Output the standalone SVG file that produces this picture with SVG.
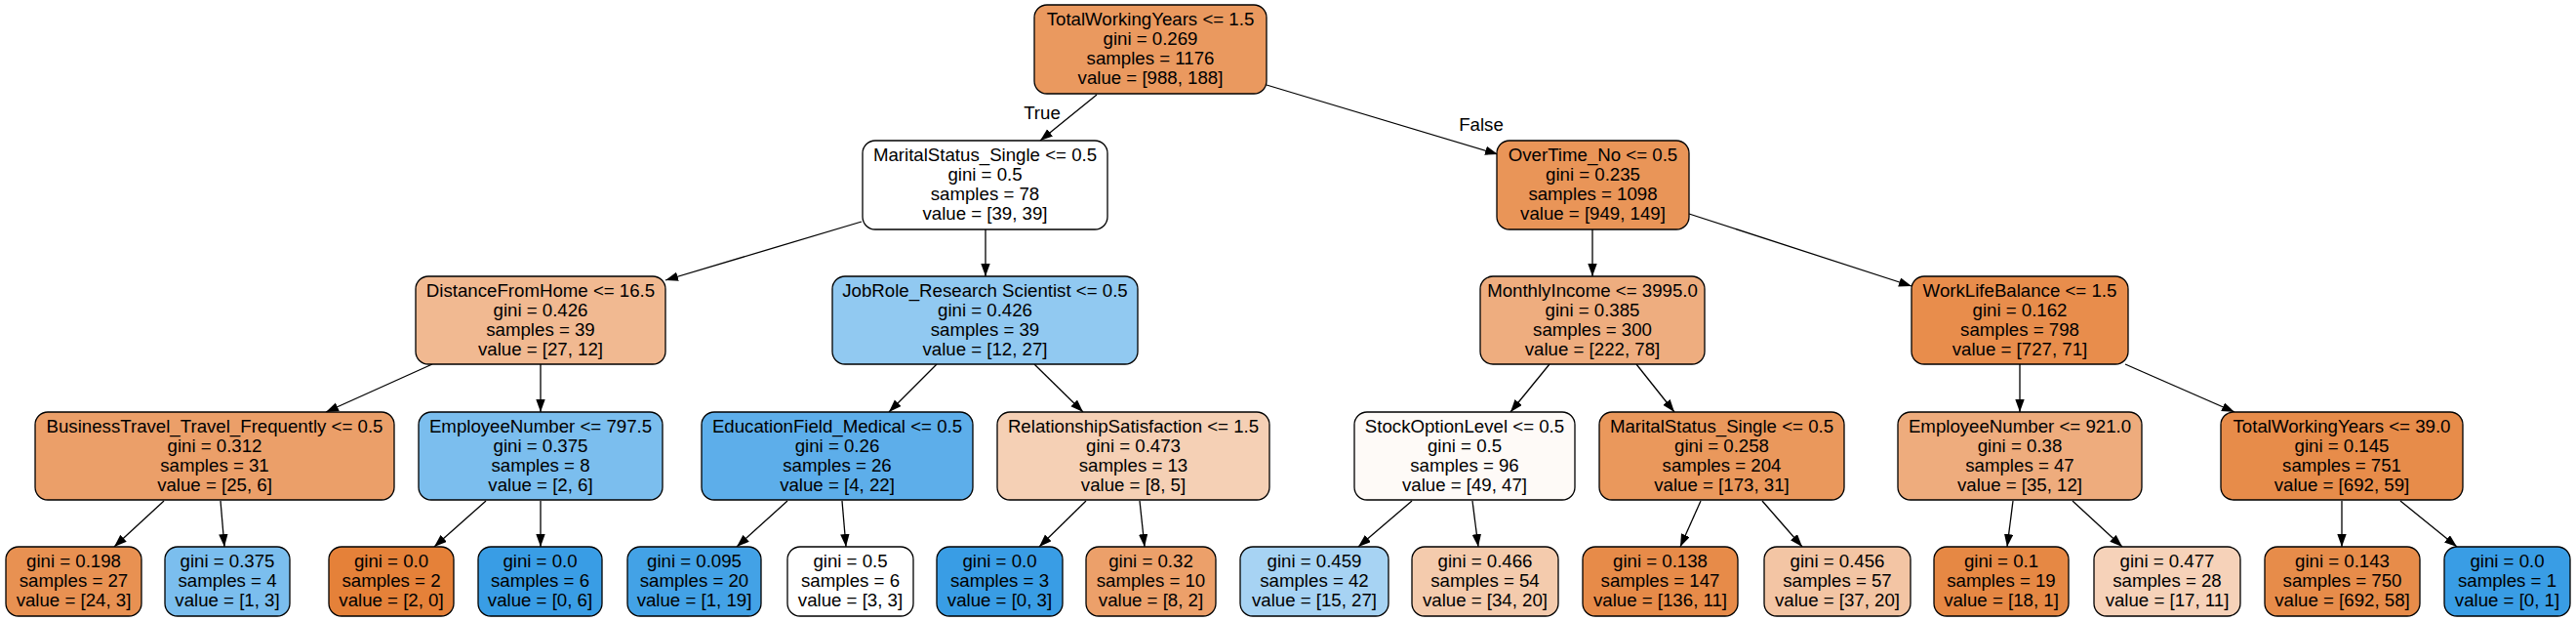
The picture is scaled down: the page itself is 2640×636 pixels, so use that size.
<svg xmlns="http://www.w3.org/2000/svg" width="2640" height="636" viewBox="0 0 2640 636">
<style>
.n rect{stroke:#000;stroke-width:1.3}
text{font-family:"Liberation Sans",Arial,Helvetica,sans-serif;font-size:18.67px;fill:#000;text-anchor:middle}
#edges line{stroke:#000;stroke-width:1.3;marker-end:url(#ah)}
</style>
<defs>
<marker id="ah" markerUnits="userSpaceOnUse" markerWidth="14" markerHeight="10" refX="13" refY="4.7" orient="auto">
<path d="M0,0 L13,4.7 L0,9.4 z" fill="#000"/>
</marker>
</defs>
<rect width="2640" height="636" fill="#fff"/>
<g id="edges">
<line x1="1124" y1="97" x2="1066" y2="144"/>
<line x1="1298" y1="87" x2="1535" y2="158"/>
<line x1="883" y1="227" x2="682" y2="287"/>
<line x1="1010" y1="235" x2="1010" y2="283"/>
<line x1="1632" y1="235" x2="1632" y2="283"/>
<line x1="1731" y1="219" x2="1959" y2="293"/>
<line x1="443" y1="373" x2="334" y2="422"/>
<line x1="554" y1="373" x2="554" y2="422"/>
<line x1="960" y1="373" x2="911" y2="422"/>
<line x1="1060" y1="373" x2="1110" y2="422"/>
<line x1="1588" y1="373" x2="1548" y2="422"/>
<line x1="1677" y1="373" x2="1716" y2="422"/>
<line x1="2070" y1="373" x2="2070" y2="422"/>
<line x1="2178" y1="373" x2="2290" y2="422"/>
<line x1="168" y1="513" x2="117" y2="560"/>
<line x1="226" y1="513" x2="230" y2="560"/>
<line x1="498" y1="513" x2="445" y2="560"/>
<line x1="554" y1="513" x2="554" y2="560"/>
<line x1="807" y1="513" x2="755" y2="560"/>
<line x1="863" y1="513" x2="867" y2="560"/>
<line x1="1113" y1="513" x2="1065" y2="560"/>
<line x1="1168" y1="513" x2="1173" y2="560"/>
<line x1="1447" y1="513" x2="1392" y2="560"/>
<line x1="1509" y1="513" x2="1515" y2="560"/>
<line x1="1743" y1="513" x2="1722" y2="560"/>
<line x1="1806" y1="513" x2="1847" y2="560"/>
<line x1="2063" y1="513" x2="2057" y2="560"/>
<line x1="2124" y1="513" x2="2175" y2="560"/>
<line x1="2400" y1="513" x2="2400" y2="560"/>
<line x1="2460" y1="513" x2="2518" y2="560"/>
<text x="1068" y="122">True</text>
<text x="1518" y="134">False</text>
</g>
<g id="n0" class="n"><rect x="1060" y="5" width="238" height="91" rx="13" fill="#ea995f"/>
<text x="1179"><tspan x="1179" y="25.5">TotalWorkingYears &lt;= 1.5</tspan><tspan x="1179" y="45.5">gini = 0.269</tspan><tspan x="1179" y="65.5">samples = 1176</tspan><tspan x="1179" y="85.5">value = [988, 188]</tspan></text></g>
<g id="n1" class="n"><rect x="884" y="144" width="251" height="91" rx="13" fill="#ffffff"/>
<text><tspan x="1009.5" y="164.5">MaritalStatus_Single &lt;= 0.5</tspan><tspan x="1009.5" y="184.5">gini = 0.5</tspan><tspan x="1009.5" y="204.5">samples = 78</tspan><tspan x="1009.5" y="224.5">value = [39, 39]</tspan></text></g>
<g id="n2" class="n"><rect x="1534" y="144" width="197" height="91" rx="13" fill="#e99558"/>
<text><tspan x="1632.5" y="164.5">OverTime_No &lt;= 0.5</tspan><tspan x="1632.5" y="184.5">gini = 0.235</tspan><tspan x="1632.5" y="204.5">samples = 1098</tspan><tspan x="1632.5" y="224.5">value = [949, 149]</tspan></text></g>
<g id="n3" class="n"><rect x="426" y="283" width="256" height="90" rx="13" fill="#f1b991"/>
<text><tspan x="554" y="303.5">DistanceFromHome &lt;= 16.5</tspan><tspan x="554" y="323.5">gini = 0.426</tspan><tspan x="554" y="343.5">samples = 39</tspan><tspan x="554" y="363.5">value = [27, 12]</tspan></text></g>
<g id="n4" class="n"><rect x="853" y="283" width="313" height="90" rx="13" fill="#91c9f1"/>
<text><tspan x="1009.5" y="303.5">JobRole_Research Scientist &lt;= 0.5</tspan><tspan x="1009.5" y="323.5">gini = 0.426</tspan><tspan x="1009.5" y="343.5">samples = 39</tspan><tspan x="1009.5" y="363.5">value = [12, 27]</tspan></text></g>
<g id="n5" class="n"><rect x="1517" y="283" width="230" height="90" rx="13" fill="#eead7f"/>
<text><tspan x="1632" y="303.5">MonthlyIncome &lt;= 3995.0</tspan><tspan x="1632" y="323.5">gini = 0.385</tspan><tspan x="1632" y="343.5">samples = 300</tspan><tspan x="1632" y="363.5">value = [222, 78]</tspan></text></g>
<g id="n6" class="n"><rect x="1959" y="283" width="222" height="90" rx="13" fill="#e88d4c"/>
<text><tspan x="2070" y="303.5">WorkLifeBalance &lt;= 1.5</tspan><tspan x="2070" y="323.5">gini = 0.162</tspan><tspan x="2070" y="343.5">samples = 798</tspan><tspan x="2070" y="363.5">value = [727, 71]</tspan></text></g>
<g id="n7" class="n"><rect x="36" y="422" width="368" height="90" rx="13" fill="#eb9f69"/>
<text><tspan x="220" y="442.5">BusinessTravel_Travel_Frequently &lt;= 0.5</tspan><tspan x="220" y="462.5">gini = 0.312</tspan><tspan x="220" y="482.5">samples = 31</tspan><tspan x="220" y="502.5">value = [25, 6]</tspan></text></g>
<g id="n8" class="n"><rect x="429" y="422" width="250" height="90" rx="13" fill="#7bbeee"/>
<text><tspan x="554" y="442.5">EmployeeNumber &lt;= 797.5</tspan><tspan x="554" y="462.5">gini = 0.375</tspan><tspan x="554" y="482.5">samples = 8</tspan><tspan x="554" y="502.5">value = [2, 6]</tspan></text></g>
<g id="n9" class="n"><rect x="719" y="422" width="278" height="90" rx="13" fill="#5daeea"/>
<text><tspan x="858" y="442.5">EducationField_Medical &lt;= 0.5</tspan><tspan x="858" y="462.5">gini = 0.26</tspan><tspan x="858" y="482.5">samples = 26</tspan><tspan x="858" y="502.5">value = [4, 22]</tspan></text></g>
<g id="n10" class="n"><rect x="1022" y="422" width="279" height="90" rx="13" fill="#f5d0b5"/>
<text><tspan x="1161.5" y="442.5">RelationshipSatisfaction &lt;= 1.5</tspan><tspan x="1161.5" y="462.5">gini = 0.473</tspan><tspan x="1161.5" y="482.5">samples = 13</tspan><tspan x="1161.5" y="502.5">value = [8, 5]</tspan></text></g>
<g id="n11" class="n"><rect x="1388" y="422" width="226" height="90" rx="13" fill="#fefaf7"/>
<text><tspan x="1501" y="442.5">StockOptionLevel &lt;= 0.5</tspan><tspan x="1501" y="462.5">gini = 0.5</tspan><tspan x="1501" y="482.5">samples = 96</tspan><tspan x="1501" y="502.5">value = [49, 47]</tspan></text></g>
<g id="n12" class="n"><rect x="1639" y="422" width="251" height="90" rx="13" fill="#ea985c"/>
<text><tspan x="1764.5" y="442.5">MaritalStatus_Single &lt;= 0.5</tspan><tspan x="1764.5" y="462.5">gini = 0.258</tspan><tspan x="1764.5" y="482.5">samples = 204</tspan><tspan x="1764.5" y="502.5">value = [173, 31]</tspan></text></g>
<g id="n13" class="n"><rect x="1945" y="422" width="250" height="90" rx="13" fill="#eeac7d"/>
<text><tspan x="2070" y="442.5">EmployeeNumber &lt;= 921.0</tspan><tspan x="2070" y="462.5">gini = 0.38</tspan><tspan x="2070" y="482.5">samples = 47</tspan><tspan x="2070" y="502.5">value = [35, 12]</tspan></text></g>
<g id="n14" class="n"><rect x="2276" y="422" width="248" height="90" rx="13" fill="#e78c4a"/>
<text><tspan x="2400" y="442.5">TotalWorkingYears &lt;= 39.0</tspan><tspan x="2400" y="462.5">gini = 0.145</tspan><tspan x="2400" y="482.5">samples = 751</tspan><tspan x="2400" y="502.5">value = [692, 59]</tspan></text></g>
<g id="n15" class="n"><rect x="6" y="560" width="139" height="71" rx="13" fill="#e89152"/>
<text><tspan x="75.5" y="580.5">gini = 0.198</tspan><tspan x="75.5" y="600.5">samples = 27</tspan><tspan x="75.5" y="620.5">value = [24, 3]</tspan></text></g>
<g id="n16" class="n"><rect x="169" y="560" width="128" height="71" rx="13" fill="#7bbeee"/>
<text><tspan x="233" y="580.5">gini = 0.375</tspan><tspan x="233" y="600.5">samples = 4</tspan><tspan x="233" y="620.5">value = [1, 3]</tspan></text></g>
<g id="n17" class="n"><rect x="337" y="560" width="128" height="71" rx="13" fill="#e58139"/>
<text><tspan x="401" y="580.5">gini = 0.0</tspan><tspan x="401" y="600.5">samples = 2</tspan><tspan x="401" y="620.5">value = [2, 0]</tspan></text></g>
<g id="n18" class="n"><rect x="490" y="560" width="127" height="71" rx="13" fill="#399de5"/>
<text><tspan x="553.5" y="580.5">gini = 0.0</tspan><tspan x="553.5" y="600.5">samples = 6</tspan><tspan x="553.5" y="620.5">value = [0, 6]</tspan></text></g>
<g id="n19" class="n"><rect x="643" y="560" width="137" height="71" rx="13" fill="#43a2e6"/>
<text><tspan x="711.5" y="580.5">gini = 0.095</tspan><tspan x="711.5" y="600.5">samples = 20</tspan><tspan x="711.5" y="620.5">value = [1, 19]</tspan></text></g>
<g id="n20" class="n"><rect x="807" y="560" width="129" height="71" rx="13" fill="#ffffff"/>
<text><tspan x="871.5" y="580.5">gini = 0.5</tspan><tspan x="871.5" y="600.5">samples = 6</tspan><tspan x="871.5" y="620.5">value = [3, 3]</tspan></text></g>
<g id="n21" class="n"><rect x="960" y="560" width="129" height="71" rx="13" fill="#399de5"/>
<text><tspan x="1024.5" y="580.5">gini = 0.0</tspan><tspan x="1024.5" y="600.5">samples = 3</tspan><tspan x="1024.5" y="620.5">value = [0, 3]</tspan></text></g>
<g id="n22" class="n"><rect x="1113" y="560" width="133" height="71" rx="13" fill="#eca06a"/>
<text><tspan x="1179.5" y="580.5">gini = 0.32</tspan><tspan x="1179.5" y="600.5">samples = 10</tspan><tspan x="1179.5" y="620.5">value = [8, 2]</tspan></text></g>
<g id="n23" class="n"><rect x="1271" y="560" width="152" height="71" rx="13" fill="#a7d3f3"/>
<text><tspan x="1347" y="580.5">gini = 0.459</tspan><tspan x="1347" y="600.5">samples = 42</tspan><tspan x="1347" y="620.5">value = [15, 27]</tspan></text></g>
<g id="n24" class="n"><rect x="1447" y="560" width="150" height="71" rx="13" fill="#f4cbad"/>
<text><tspan x="1522" y="580.5">gini = 0.466</tspan><tspan x="1522" y="600.5">samples = 54</tspan><tspan x="1522" y="620.5">value = [34, 20]</tspan></text></g>
<g id="n25" class="n"><rect x="1622" y="560" width="159" height="71" rx="13" fill="#e78b49"/>
<text><tspan x="1701.5" y="580.5">gini = 0.138</tspan><tspan x="1701.5" y="600.5">samples = 147</tspan><tspan x="1701.5" y="620.5">value = [136, 11]</tspan></text></g>
<g id="n26" class="n"><rect x="1808" y="560" width="150" height="71" rx="13" fill="#f3c5a4"/>
<text><tspan x="1883" y="580.5">gini = 0.456</tspan><tspan x="1883" y="600.5">samples = 57</tspan><tspan x="1883" y="620.5">value = [37, 20]</tspan></text></g>
<g id="n27" class="n"><rect x="1982" y="560" width="138" height="71" rx="13" fill="#e68844"/>
<text><tspan x="2051" y="580.5">gini = 0.1</tspan><tspan x="2051" y="600.5">samples = 19</tspan><tspan x="2051" y="620.5">value = [18, 1]</tspan></text></g>
<g id="n28" class="n"><rect x="2146" y="560" width="150" height="71" rx="13" fill="#f6d2b9"/>
<text><tspan x="2221" y="580.5">gini = 0.477</tspan><tspan x="2221" y="600.5">samples = 28</tspan><tspan x="2221" y="620.5">value = [17, 11]</tspan></text></g>
<g id="n29" class="n"><rect x="2321" y="560" width="159" height="71" rx="13" fill="#e78c4a"/>
<text><tspan x="2400.5" y="580.5">gini = 0.143</tspan><tspan x="2400.5" y="600.5">samples = 750</tspan><tspan x="2400.5" y="620.5">value = [692, 58]</tspan></text></g>
<g id="n30" class="n"><rect x="2505" y="560" width="129" height="71" rx="13" fill="#399de5"/>
<text><tspan x="2569.5" y="580.5">gini = 0.0</tspan><tspan x="2569.5" y="600.5">samples = 1</tspan><tspan x="2569.5" y="620.5">value = [0, 1]</tspan></text></g>
</svg>
